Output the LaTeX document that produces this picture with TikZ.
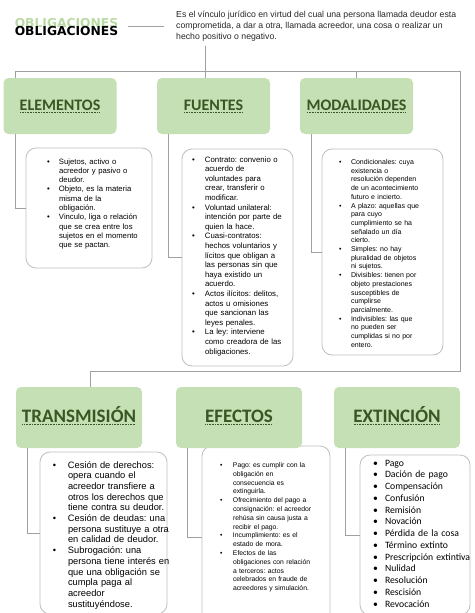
\documentclass[tikz,border=0pt]{standalone}
\usepackage{fontspec}
\setmainfont{Liberation Sans}
\newfontfamily\calibrifont{Carlito}
\newfontfamily\heavyfont{DejaVu Sans}
\usetikzlibrary{positioning, backgrounds}
\definecolor{leafgreen}{RGB}{197,224,180}
\definecolor{darkgreen}{RGB}{56,87,35}
\definecolor{shadowgreen}{RGB}{169,209,142}
\definecolor{linegray}{RGB}{160,160,160}
\definecolor{boxgray}{RGB}{191,191,191}
\newsavebox{\ulbox}
\newcommand{\dotunder}[1]{\sbox{\ulbox}{#1}\rlap{\usebox{\ulbox}}\raisebox{-2.6pt}{\hbox to \wd\ulbox{\leaders\hbox to 1.6pt{\hss\rule{0.8pt}{0.8pt}\hss}\hfill}}}
\frenchspacing

\begin{document}
\begin{tikzpicture}[
        x=1pt, y=-1pt,
        link/.style={draw=linegray, line width=1pt},
        headbox/.style={rectangle, fill=leafgreen, rounded corners=5pt, inner sep=0pt, outer sep=0pt, text=darkgreen},
        listbox/.style={rectangle, draw=boxgray, fill=white, line width=0.8pt, rounded corners=10pt, inner sep=0pt, outer sep=0pt, anchor=north west, align=left}
    ]
        \useasboundingbox (0,0) rectangle (474,613);

        % title and definition
        \node[inner sep=0pt, text=shadowgreen, opacity=0.8, font=\heavyfont\bfseries\fontsize{12.3}{14}\selectfont] (titleshade) at (66.5,23) {OBLIGACIONES};
        \node[inner sep=0pt, font=\heavyfont\bfseries\fontsize{12.3}{14}\selectfont] (title) at (66.5,31.5) {OBLIGACIONES};
        \node[anchor=north west, inner sep=0pt, align=left, text=black!85, font=\fontsize{8.7}{11}\selectfont] (desc) at (176,11) {Es el vínculo jurídico en virtud del cual una persona llamada deudor esta\\comprometida, a dar a otra, llamada acreedor, una cosa o realizar un\\hecho positivo o negativo.};

        % first row
        \node[headbox, minimum width=113pt, minimum height=56pt, text height=11pt, text depth=3pt, font=\calibrifont\bfseries\fontsize{16}{18}\selectfont] (elementos) at (60,106) {\dotunder{ELEMENTOS}};
        \node[headbox, minimum width=113pt, minimum height=56pt, text height=11pt, text depth=3pt, font=\calibrifont\bfseries\fontsize{16}{18}\selectfont, right=40.5pt of elementos] (fuentes) {\dotunder{FUENTES}};
        \node[headbox, minimum width=113pt, minimum height=56pt, text height=11pt, text depth=3pt, font=\calibrifont\bfseries\fontsize{16}{18}\selectfont, right=30pt of fuentes] (modalidades) {\dotunder{MODALIDADES}};

        % second row
        \node[headbox, minimum width=126pt, minimum height=61pt, text height=13pt, text depth=3pt, font=\calibrifont\bfseries\fontsize{19}{21}\selectfont] (transmision) at (79,417.5) {\dotunder{TRANSMISIÓN}};
        \node[headbox, minimum width=126pt, minimum height=61pt, text height=13pt, text depth=3pt, font=\calibrifont\bfseries\fontsize{19}{21}\selectfont, right=34pt of transmision] (efectos) {\dotunder{EFECTOS}};
        \node[headbox, minimum width=126pt, minimum height=61pt, text height=13pt, text depth=3pt, font=\calibrifont\bfseries\fontsize{19}{21}\selectfont, right=32pt of efectos] (extincion) {\dotunder{EXTINCIÓN}};

        \begin{scope}[on background layer]
        \node[listbox, text width=126pt, text height=16pt, text depth=104pt, font=\fontsize{7.7}{9.3}\selectfont] (elemlist) at (26,148) {\begin{tabular}[t]{@{\hspace{21pt}}p{12pt}@{}l@{}}
            \textbullet & Sujetos, activo o\\
            & acreedor y pasivo o\\
            & deudor.\\
            \textbullet & Objeto, es la materia\\
            & misma de la\\
            & obligación.\\
            \textbullet & Vinculo, liga o relación\\
            & que se crea entre los\\
            & sujetos en el momento\\
            & que se pactan.
        \end{tabular}};
        \node[listbox, text width=111pt, text height=13pt, text depth=204pt, font=\fontsize{7.8}{9.6}\selectfont] (fuentlist) at (182,149) {\begin{tabular}[t]{@{\hspace{10pt}}p{13pt}@{}l@{}}
            \textbullet & Contrato: convenio o\\
            & acuerdo de\\
            & voluntades para\\
            & crear, transferir o\\
            & modificar.\\
            \textbullet & Voluntad unilateral:\\
            & intención por parte de\\
            & quien la hace.\\
            \textbullet & Cuasi-contratos:\\
            & hechos voluntarios y\\
            & lícitos que obligan a\\
            & las personas sin que\\
            & haya existido un\\
            & acuerdo.\\
            \textbullet & Actos ilícitos: delitos,\\
            & actos u omisiones\\
            & que sancionan las\\
            & leyes penales.\\
            \textbullet & La ley: interviene\\
            & como creadora de las\\
            & obligaciones.
        \end{tabular}};
        \node[listbox, text width=121pt, text height=15.5pt, text depth=190.5pt, font=\fontsize{7}{8.7}\selectfont] (modlist) at (322,149) {\begin{tabular}[t]{@{\hspace{17pt}}p{12pt}@{}l@{}}
            \textbullet & Condicionales: cuya\\
            & existencia o\\
            & resolución dependen\\
            & de un acontecimiento\\
            & futuro e incierto.\\
            \textbullet & A plazo: aquellas que\\
            & para cuyo\\
            & cumplimiento se ha\\
            & señalado un día\\
            & cierto.\\
            \textbullet & Simples: no hay\\
            & pluralidad de objetos\\
            & ni sujetos.\\
            \textbullet & Divisibles: tienen por\\
            & objeto prestaciones\\
            & susceptibles de\\
            & cumplirse\\
            & parcialmente.\\
            \textbullet & Indivisibles: las que\\
            & no pueden ser\\
            & cumplidas si no por\\
            & entero.
        \end{tabular}};
        \node[listbox, text width=127pt, text height=16pt, text depth=146pt, font=\fontsize{9.3}{10.7}\selectfont] (translist) at (40,452) {\begin{tabular}[t]{@{\hspace{13pt}}p{15pt}@{}l@{}}
            \textbullet & Cesión de derechos:\\
            & opera cuando el\\
            & acreedor transfiere a\\
            & otros los derechos que\\
            & tiene contra su deudor.\\
            \textbullet & Cesión de deudas: una\\
            & persona sustituye a otra\\
            & en calidad de deudor.\\
            \textbullet & Subrogación: una\\
            & persona tiene interés en\\
            & que una obligación se\\
            & cumpla paga al\\
            & acreedor\\
            & sustituyéndose.
        \end{tabular}};
        \node[listbox, text width=128pt, text height=21.5pt, text depth=160.5pt, font=\fontsize{6.8}{8.8}\selectfont] (eflist) at (202,446) {\begin{tabular}[t]{@{\hspace{18pt}}p{13pt}@{}l@{}}
            \textbullet & Pago: es cumplir con la\\
            & obligación en\\
            & consecuencia es\\
            & extinguirla.\\
            \textbullet & Ofrecimiento del pago a\\
            & consignación: el acreedor\\
            & rehúsa sin causa justa a\\
            & recibir el pago.\\
            \textbullet & Incumplimiento: es el\\
            & estado de mora.\\
            \textbullet & Efectos de las\\
            & obligaciones con relación\\
            & a terceros: actos\\
            & celebrados en fraude de\\
            & acreedores y simulación.
        \end{tabular}};
        \node[listbox, text width=110pt, text height=11pt, text depth=149pt, font=\calibrifont\fontsize{9.7}{11.75}\selectfont] (extlist) at (360,455) {\begin{tabular}[t]{@{\hspace{13pt}}p{12pt}@{}l@{}}
            \textbullet & Pago\\
            \textbullet & Dación de pago\\
            \textbullet & Compensación\\
            \textbullet & Confusión\\
            \textbullet & Remisión\\
            \textbullet & Novación\\
            \textbullet & Pérdida de la cosa\\
            \textbullet & Término extinto\\
            \textbullet & Prescripción extintiva\\
            \textbullet & Nulidad\\
            \textbullet & Resolución\\
            \textbullet & Rescisión\\
            \textbullet & Revocación
        \end{tabular}};
        \end{scope}

        % trunk
        \coordinate (barleft) at (15,71);
        \coordinate (barright) at (460,71);
        \coordinate (barmid) at (205,71);
        \coordinate (lowright) at (460,371);
        \coordinate (lowleft) at (90,371);

        \draw[link, shorten <=10pt, shorten >=12pt] (title.east |- desc.west) -- (desc.west);
        \draw[link] (barleft |- elementos.north) -- (barleft) -- (barright) -- (lowright) -- (lowleft) -- (lowleft |- transmision.north);
        \draw[link, shorten <=4pt] (barmid |- desc.south) -- (barmid |- fuentes.north);
        \draw[link] (modalidades.north |- barright) -- (modalidades.north);

        % branches
        \draw[link] ([xshift=11.5pt]elementos.south west) |- (elemlist.west);
        \draw[link] ([xshift=11.5pt]fuentes.south west) |- (fuentlist.west);
        \draw[link] ([xshift=11.5pt]modalidades.south west) |- (modlist.west);
        \draw[link] ([xshift=11.5pt]transmision.south west) |- (translist.west);
        \draw[link] ([xshift=11.5pt]efectos.south west) |- (eflist.west);
        \draw[link] ([xshift=11.5pt]extincion.south west) |- (extlist.west);
\end{tikzpicture}
\end{document}
